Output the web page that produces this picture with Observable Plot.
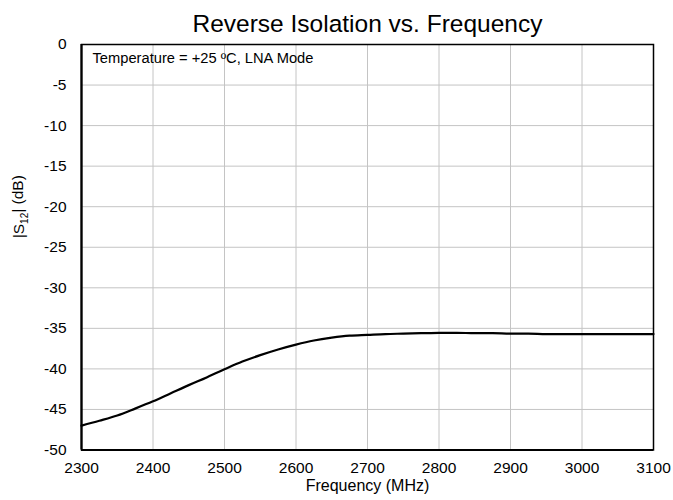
<!DOCTYPE html>
<html>
<head>
<meta charset="utf-8">
<script src="https://cdn.jsdelivr.net/npm/d3@7"></script>
<script src="https://cdn.jsdelivr.net/npm/@observablehq/plot@0.6"></script>
<style>
  html, body { margin: 0; padding: 0; background: #fff; }
  svg { display: block; }
</style>
</head>
<body>
<div id="chart"></div>
<script>
const titleText = "Reverse Isolation vs. Frequency";
const noteText = "Temperature = +25 \u00BAC, LNA Mode";
const xLabel = "Frequency (MHz)";
const yLabel = "|S12| (dB)";

const xTicks = [2300, 2400, 2500, 2600, 2700, 2800, 2900, 3000, 3100];
const yTicks = [0, -5, -10, -15, -20, -25, -30, -35, -40, -45, -50];

const freq = [2300, 2325, 2350, 2375, 2400, 2425, 2450, 2475, 2500, 2525, 2550, 2575, 2600,
              2625, 2650, 2675, 2700, 2725, 2750, 2775, 2800, 2825, 2850, 2875, 2900,
              2925, 2950, 2975, 3000, 3025, 3050, 3075, 3100];
const s12 = [-47.0, -46.4, -45.75, -44.9, -44.0, -43.0, -42.0, -41.05, -40.05, -39.1, -38.3, -37.6, -37.0,
             -36.5, -36.15, -35.9, -35.8, -35.7, -35.65, -35.6, -35.55, -35.55, -35.6, -35.6, -35.65,
             -35.65, -35.7, -35.7, -35.7, -35.7, -35.7, -35.7, -35.7];

const data = freq.map((f, i) => ({f, v: s12[i]}));
const font = "'Liberation Sans', Arial, sans-serif";
const fmt = d => String(d);

const chart = Plot.plot({
  width: 673,
  height: 500,
  marginLeft: 81,
  marginRight: 20,
  marginTop: 44,
  marginBottom: 50.5,
  style: {fontFamily: font, color: "#000", background: "#fff"},
  x: {domain: [2300, 3100]},
  y: {domain: [-50, 0]},
  marks: [
    Plot.gridX(xTicks, {stroke: "#c4c4c4", strokeOpacity: 1, strokeWidth: 1}),
    Plot.gridY(yTicks, {stroke: "#c4c4c4", strokeOpacity: 1, strokeWidth: 1}),
    Plot.frame({stroke: "#000", strokeWidth: 1.5}),
    Plot.ruleX([2300], {stroke: "#000", strokeWidth: 2.2}),
    Plot.ruleY([-50], {stroke: "#000", strokeWidth: 2.2}),
    Plot.line(data, {x: "f", y: "v", stroke: "#000", strokeWidth: 2.2, curve: "monotone-x"}),
    Plot.axisX(xTicks, {tickSize: 0, tickPadding: 12, fontSize: 15.5, label: null, fill: "#000", tickFormat: fmt}),
    Plot.axisY(yTicks, {tickSize: 0, tickPadding: 15, fontSize: 15.5, label: null, fill: "#000", tickFormat: fmt}),
    Plot.text([titleText], {frameAnchor: "top", dy: -30, fontSize: 24.5, fill: "#000"}),
    Plot.text([noteText], {frameAnchor: "top-left", dx: 11, dy: 8, fontSize: 14.7, fill: "#000"}),
    Plot.text([xLabel], {frameAnchor: "bottom", dy: 40.5, fontSize: 16, fill: "#000"}),
    Plot.text([yLabel], {frameAnchor: "left", dx: -62, dy: -9, rotate: -90, fontSize: 15.5, fill: "#000"})
  ]
});

d3.select(chart).selectAll("text").filter(function() { return this.textContent === yLabel; })
  .each(function() {
    const t = d3.select(this);
    t.text(null);
    t.append("tspan").text("|S");
    t.append("tspan").attr("font-size", 10).attr("dy", "0.35em").text("12");
    t.append("tspan").attr("dy", "-0.35em").attr("font-size", 15.5).text("| (dB)");
  });

document.getElementById("chart").appendChild(chart);
</script>
</body>
</html>
